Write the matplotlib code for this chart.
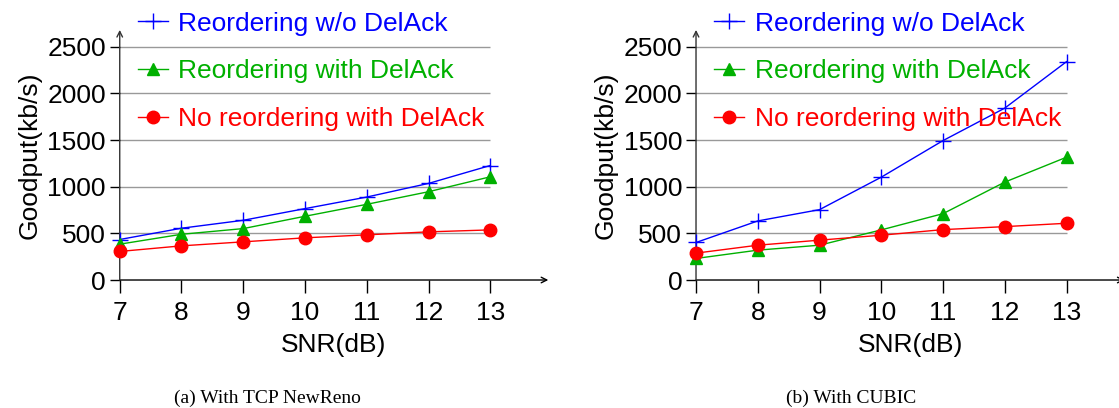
import matplotlib
matplotlib.use('Agg')
import matplotlib.pyplot as plt

plt.rcParams['font.family'] = ['Liberation Sans', 'DejaVu Sans']

snr = [7, 8, 9, 10, 11, 12, 13]

newreno_reorder_nodelack = [434, 555, 640, 765, 889, 1035, 1227]
newreno_reorder_delack = [384, 490, 551, 683, 811, 946, 1106]
newreno_noreorder_delack = [306, 366, 409, 452, 484, 516, 537]

cubic_reorder_nodelack = [402, 633, 754, 1102, 1494, 1842, 2340]
cubic_reorder_delack = [231, 320, 373, 537, 711, 1049, 1316]
cubic_noreorder_delack = [288, 373, 427, 480, 540, 572, 608]

labels = ['Reordering w/o DelAck', 'Reordering with DelAck', 'No reordering with DelAck']
captions = ['(a) With TCP NewReno', '(b) With CUBIC']
yticks = [0, 500, 1000, 1500, 2000, 2500]

blue, green, red = '#0000ff', '#00b000', '#ff0000'

fig = plt.figure(figsize=(11.19, 4.08), dpi=100)

panels = [
    (0.107, 0.239, [newreno_reorder_nodelack, newreno_reorder_delack, newreno_noreorder_delack]),
    (0.622, 0.761, [cubic_reorder_nodelack, cubic_reorder_delack, cubic_noreorder_delack]),
]

for i, (left, cap_x, series) in enumerate(panels):
    ax = fig.add_axes([left, 0.3137, 0.383, 0.613])
    ax.set_xlim(7, 13.94)
    ax.set_ylim(0, 2680)
    for s in ['top', 'right', 'left', 'bottom']:
        ax.spines[s].set_visible(False)
    # grid lines only over the data range
    ax.hlines(yticks[1:], 7, 13, color='#999999', lw=1, zorder=1)
    # arrowed axes
    ax.annotate('', xy=(13.94, 0), xytext=(7, 0),
                arrowprops=dict(arrowstyle='->', lw=1, color='black',
                                shrinkA=0, shrinkB=0), annotation_clip=False)
    ax.annotate('', xy=(7, 2680), xytext=(7, 0),
                arrowprops=dict(arrowstyle='->', lw=1, color='#333333',
                                shrinkA=0, shrinkB=0), annotation_clip=False)

    ax.plot(snr, series[0], color=blue, marker='+', ms=12, mew=1, lw=1,
            label=labels[0], zorder=3, clip_on=False)
    ax.plot(snr, series[1], color=green, marker='^', ms=8, lw=1,
            label=labels[1], zorder=3, clip_on=False)
    ax.plot(snr, series[2], color=red, marker='o', ms=9, lw=1,
            label=labels[2], zorder=3, clip_on=False)

    ax.set_xticks(snr)
    ax.set_yticks(yticks)
    ax.tick_params(axis='x', direction='out', length=9, width=1, pad=6, labelsize=19)
    ax.tick_params(axis='y', direction='out', length=7, width=1, pad=3, labelsize=19)
    ax.set_xlabel('SNR(dB)', fontsize=19, labelpad=6)
    ax.set_ylabel('Goodput(kb/s)', fontsize=19, labelpad=4)

    leg = ax.legend(loc='upper left', bbox_to_anchor=(0.017, 1.115), frameon=False,
                    fontsize=19, handlelength=1.15, handletextpad=0.4,
                    labelspacing=0.9, borderaxespad=0)
    for t, c in zip(leg.get_texts(), [blue, green, red]):
        t.set_color(c)

    fig.text(cap_x, 0.012, captions[i], fontsize=14,
             family=['Liberation Serif', 'DejaVu Serif'], ha='center')

fig.savefig('out.png', dpi=100)
